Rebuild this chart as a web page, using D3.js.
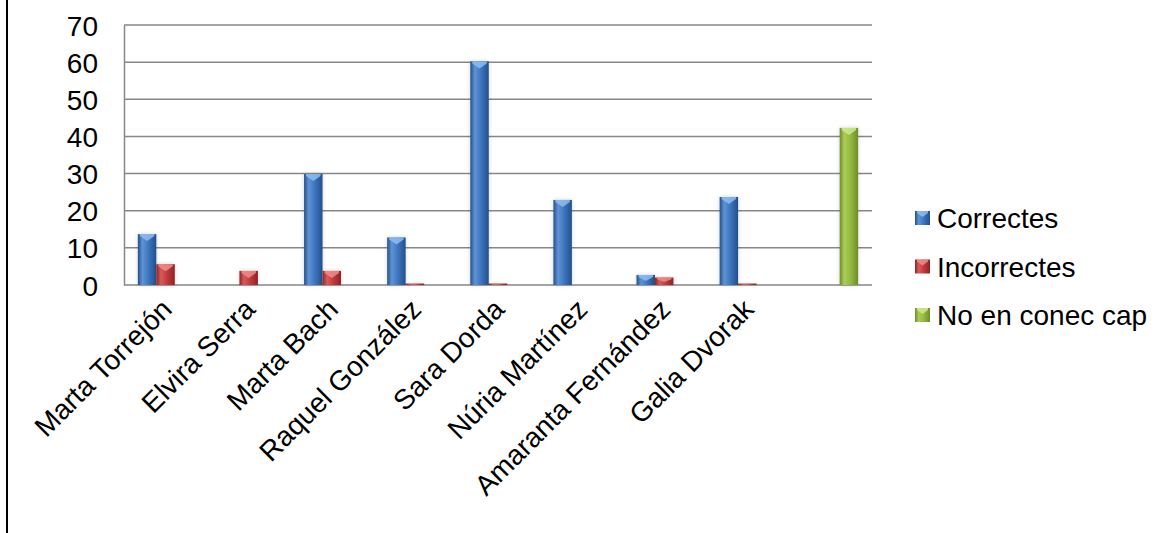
<!DOCTYPE html>
<html>
<head>
<meta charset="utf-8">
<script src="https://cdn.jsdelivr.net/npm/d3@7"></script>
<style>
  html, body { margin: 0; padding: 0; background: #fff; }
  svg { display: block; font-family: "Liberation Sans", Arial, sans-serif; }
</style>
</head>
<body>
<div id="chart"></div>
<script>
// Data
const categories = ['Marta Torrejón', 'Elvira Serra', 'Marta Bach', 'Raquel González', 'Sara Dorda',
  'Núria Martínez', 'Amaranta Fernández', 'Galia Dvorak', ''];
const seriesNames = ['Correctes', 'Incorrectes', 'No en conec cap'];
const correctes = [13.7, 0, 29.9, 12.8, 60.2, 22.9, 2.7, 23.7, 0];
const incorrectes = [5.6, 3.8, 3.8, 0.4, 0.4, 0, 2.0, 0.4, 0];
const noConec = [0, 0, 0, 0, 0, 0, 0, 0, 42.3];
const yTicks = [0, 10, 20, 30, 40, 50, 60, 70];

const width = 1160, height = 533;
const plot = { left: 124, right: 872, top: 25, bottom: 285 };
const fontSize = '28px';

const colors = {
  'Correctes': { base: '#3b73bd', light: '#5e93d6', dark: '#245088', tip: '#8fbdf0' },
  'Incorrectes': { base: '#c0393b', light: '#d85a5a', dark: '#8e2326', tip: '#f08c8c' },
  'No en conec cap': { base: '#93b83e', light: '#aacd55', dark: '#6c8c2a', tip: '#cfe98a' }
};

const seriesValues = [correctes, incorrectes, noConec];
const rows = categories.map((c, i) => ({
  cat: c,
  values: seriesNames.map((s, k) => ({ series: s, value: seriesValues[k][i] }))
}));

const svg = d3.select('#chart').append('svg')
  .attr('width', width)
  .attr('height', height);

const defs = svg.append('defs');

// Horizontal shading gradients for the cylinder-like bars
seriesNames.forEach((s, i) => {
  const c = colors[s];
  const grad = defs.append('linearGradient')
    .attr('id', 'grad' + i)
    .attr('x1', '0%').attr('x2', '100%').attr('y1', '0%').attr('y2', '0%');
  grad.append('stop').attr('offset', '0%').attr('stop-color', c.dark);
  grad.append('stop').attr('offset', '25%').attr('stop-color', c.light);
  grad.append('stop').attr('offset', '60%').attr('stop-color', c.base);
  grad.append('stop').attr('offset', '100%').attr('stop-color', c.dark);
});

// Soft grey glow around bars
const shadow = defs.append('filter')
  .attr('id', 'glow')
  .attr('x', '-50%').attr('y', '-20%').attr('width', '200%').attr('height', '140%');
shadow.append('feGaussianBlur').attr('in', 'SourceAlpha').attr('stdDeviation', 2).attr('result', 'blur');
shadow.append('feComponentTransfer').attr('in', 'blur').attr('result', 'soft')
  .append('feFuncA').attr('type', 'linear').attr('slope', 0.18);
const merge = shadow.append('feMerge');
merge.append('feMergeNode').attr('in', 'soft');
merge.append('feMergeNode').attr('in', 'SourceGraphic');

// Left border line of the frame
svg.append('line')
  .attr('x1', 7).attr('x2', 7)
  .attr('y1', 0).attr('y2', height)
  .attr('stroke', '#000')
  .attr('stroke-width', 2);

// Scales
const x0 = d3.scaleBand()
  .domain(categories)
  .range([plot.left, plot.right])
  .padding(0);

const step = x0.bandwidth();
const x1 = d3.scaleBand()
  .domain(seriesNames)
  .range([step / 6, step * 5 / 6])
  .padding(0);

const y = d3.scaleLinear()
  .domain([0, 70])
  .range([plot.bottom, plot.top]);

// Grid lines
svg.append('g')
  .selectAll('line')
  .data(yTicks)
  .enter()
  .append('line')
  .attr('x1', plot.left)
  .attr('x2', plot.right)
  .attr('y1', d => y(d))
  .attr('y2', d => y(d))
  .attr('stroke', '#878787')
  .attr('stroke-width', 1.5);

// Y axis
svg.append('g')
  .attr('transform', `translate(${plot.left},0)`)
  .call(d3.axisLeft(y).tickValues(yTicks).tickSize(0).tickPadding(26))
  .call(g => g.select('.domain').attr('stroke', '#878787').attr('stroke-width', 1.5))
  .call(g => g.selectAll('text')
    .attr('fill', '#000')
    .attr('dy', '0.36em')
    .style('font-size', fontSize)
    .style('font-family', '"Liberation Sans", Arial, sans-serif'));

// Bars
const groups = svg.append('g')
  .selectAll('g')
  .data(rows)
  .enter()
  .append('g')
  .attr('transform', d => `translate(${x0(d.cat)},0)`);

const bars = groups.selectAll('g.bar')
  .data(d => d.values.filter(v => v.value > 0))
  .enter()
  .append('g')
  .attr('class', 'bar');

bars.append('rect')
  .attr('x', d => x1(d.series))
  .attr('width', x1.bandwidth())
  .attr('y', d => y(d.value))
  .attr('height', d => y(0) - y(d.value))
  .attr('fill', d => `url(#grad${seriesNames.indexOf(d.series)})`)
  .attr('filter', 'url(#glow)');

// Lighter chevron at the top of each bar
bars.append('path')
  .attr('d', d => {
    const xa = x1(d.series) + 2;
    const xb = x1(d.series) + x1.bandwidth() - 2;
    const xm = (xa + xb) / 2;
    const top = y(d.value);
    const h = Math.min(7, (y(0) - top) * 0.6);
    const band = Math.min(2, h * 0.4);
    return `M${xa},${top}L${xb},${top}L${xb},${top + band}L${xm},${top + h}L${xa},${top + band}Z`;
  })
  .attr('fill', d => colors[d.series].tip)
  .attr('opacity', 0.85);

// Category labels
svg.append('g')
  .selectAll('text')
  .data(categories)
  .enter()
  .append('text')
  .attr('transform', d => `translate(${x0(d) + step / 2 + 8},${plot.bottom + 26}) rotate(-45)`)
  .attr('text-anchor', 'end')
  .attr('fill', '#000')
  .style('font-size', fontSize)
  .text(d => d);

// Legend
const legend = svg.append('g')
  .attr('transform', 'translate(915,0)')
  .selectAll('g')
  .data(seriesNames)
  .enter()
  .append('g')
  .attr('transform', (d, i) => `translate(0,${218 + i * 48.5})`);

legend.append('rect')
  .attr('x', 0)
  .attr('y', -7)
  .attr('width', 15)
  .attr('height', 14)
  .attr('fill', (d, i) => `url(#grad${i})`);

legend.append('path')
  .attr('d', 'M2,-7L13,-7L13,-5L7.5,-1L2,-5Z')
  .attr('fill', d => colors[d].tip)
  .attr('opacity', 0.85);

legend.append('text')
  .attr('x', 22)
  .attr('y', 10)
  .attr('fill', '#000')
  .style('font-size', fontSize)
  .text(d => d);
</script>
</body>
</html>
